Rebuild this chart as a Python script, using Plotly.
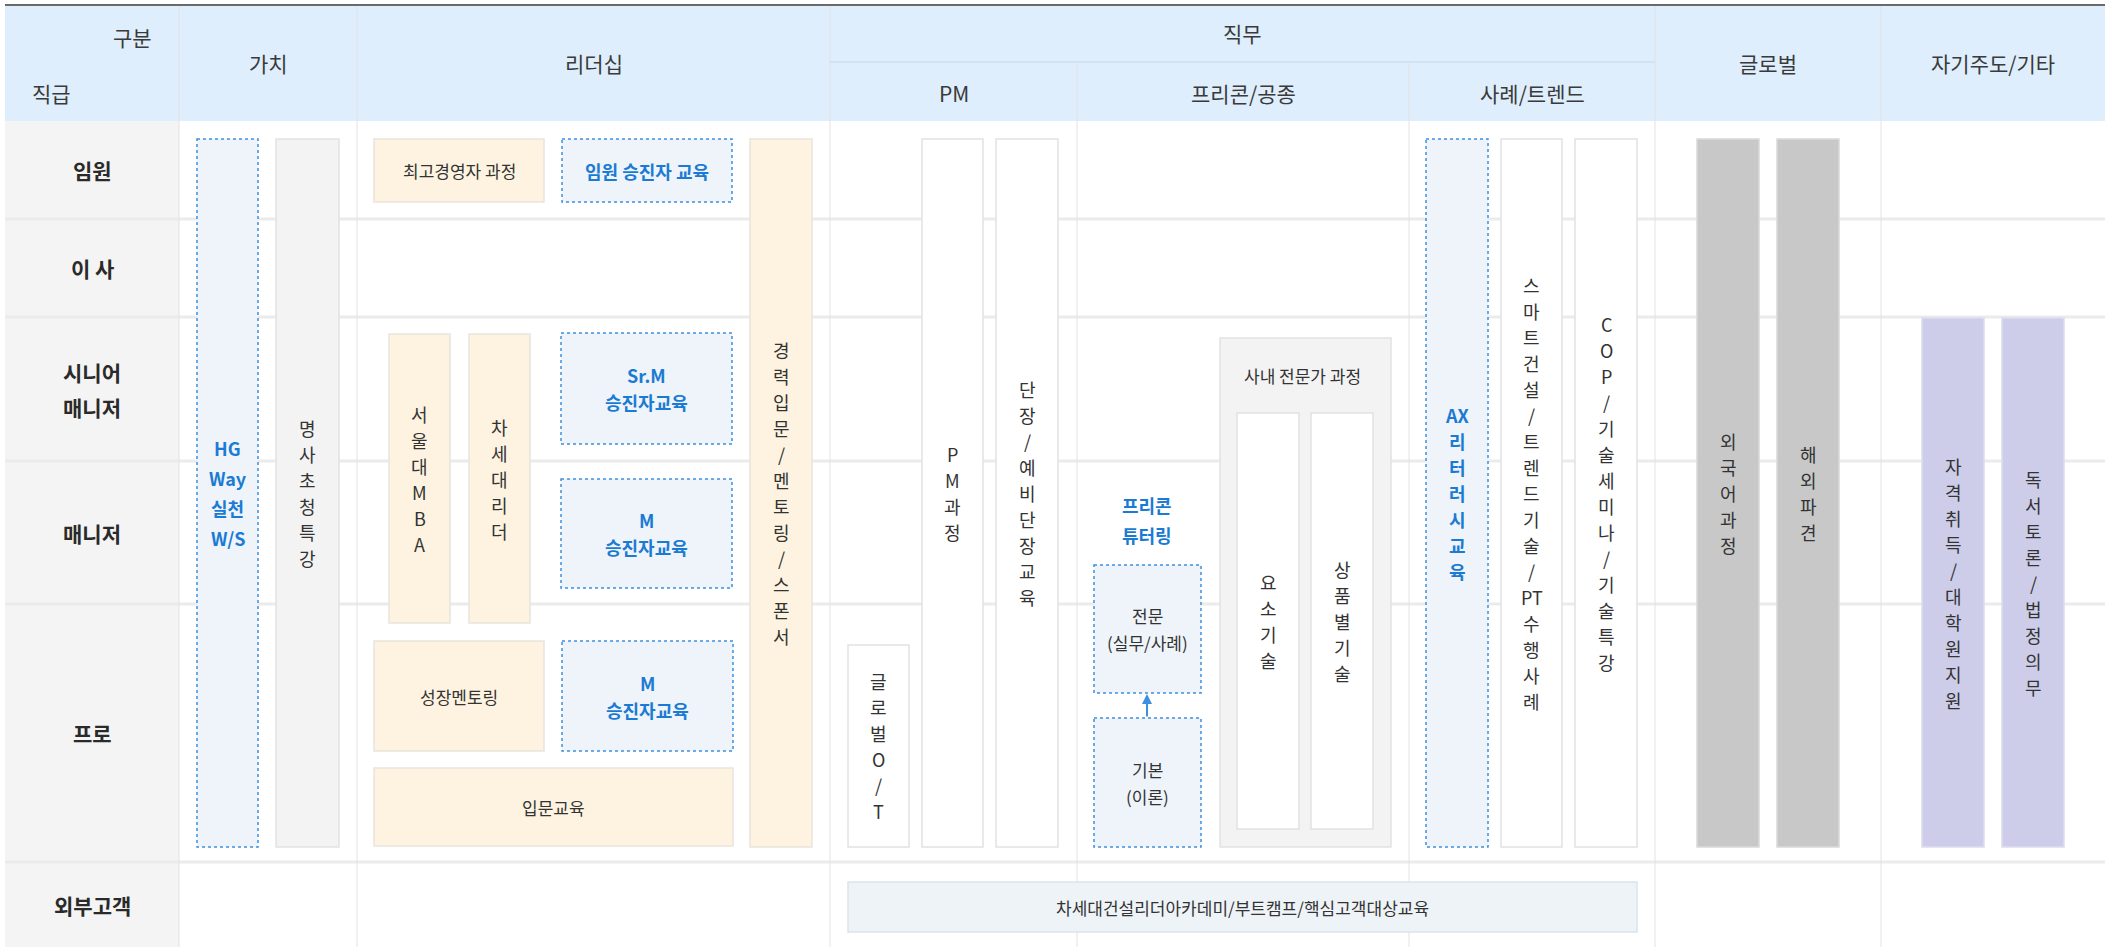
import plotly.graph_objects as go

# ---------------- content ----------------
corner_top = "구분"
corner_left = "직급"
row_labels = ["임원", "이 사", "시니어\n매니저", "매니저", "프로", "외부고객"]
category_labels = ["가치", "리더십", "직무", "글로벌", "자기주도/기타"]
job_sub_labels = ["PM", "프리콘/공종", "사례/트렌드"]

value_programs = ["HG\nWay\n실천\nW/S", "명사초청특강"]
leadership_programs = ["최고경영자 과정", "임원 승진자 교육", "서울대MBA", "차세대리더",
                       "Sr.M\n승진자교육", "M\n승진자교육", "성장멘토링", "M\n승진자교육",
                       "입문교육", "경력입문/멘토링/스폰서"]
pm_programs = ["글로벌O/T", "PM과정", "단장/예비단장교육"]
precon_programs = ["프리콘\n튜터링", "전문\n(실무/사례)", "기본\n(이론)", "사내 전문가 과정",
                   "요소기술", "상품별기술"]
trend_programs = ["AX리터러시교육", "스마트건설/트렌드기술/PT수행사례", "COP/기술세미나/기술특강"]
global_programs = ["외국어과정", "해외파견"]
self_programs = ["자격취득/대학원지원", "독서토론/법정의무"]
external_programs = ["차세대건설리더아카데미/부트캠프/핵심고객대상교육"]

# ---------------- layout geometry (pixels) ----------------
W, H = 2111, 947
L, R, TOP, HEAD_B, SUB_Y = 5, 2105, 5, 121, 62
col_edges = [5, 179, 357, 830, 1077, 1409, 1655, 1881, 2105]
row_edges = [121, 219, 317, 461, 604, 862, 947]

FONT = "Noto Sans CJK KR"
DARK = "#333333"
BLUE = "#1b7bd3"

STYLES = {
    "beige": dict(fill="#fdf3e0", line="#e9e4dc", dash="solid"),
    "blue": dict(fill="#eef4fa", line="#3d90e0", dash="dot"),
    "gray": dict(fill="#f3f3f3", line="#e2e2e2", dash="solid"),
    "white": dict(fill="#ffffff", line="#e2e2e2", dash="solid"),
    "dark": dict(fill="#c8c8c8", line="#d9d9d9", dash="solid"),
    "lav": dict(fill="#cdcdea", line="#dcdcef", dash="solid"),
    "ext": dict(fill="#eef3f8", line="#dde3ea", dash="solid"),
}

# (label, x0, x1, y0, y1, style, mode, text colour, bold)
boxes = [
    (value_programs[0], 197, 258, 139, 847, "blue", "h", BLUE, True),
    (value_programs[1], 276, 339, 139, 847, "gray", "v", DARK, False),
    (leadership_programs[0], 374, 544, 139, 202, "beige", "h", DARK, False),
    (leadership_programs[1], 562, 732, 139, 202, "blue", "h", BLUE, True),
    (leadership_programs[2], 389, 450, 334, 623, "beige", "v", DARK, False),
    (leadership_programs[3], 469, 530, 334, 623, "beige", "v", DARK, False),
    (leadership_programs[4], 561, 732, 333, 444, "blue", "h", BLUE, True),
    (leadership_programs[5], 561, 732, 479, 588, "blue", "h", BLUE, True),
    (leadership_programs[6], 374, 544, 641, 751, "beige", "h", DARK, False),
    (leadership_programs[7], 562, 733, 641, 751, "blue", "h", BLUE, True),
    (leadership_programs[8], 374, 733, 768, 846, "beige", "h", DARK, False),
    (leadership_programs[9], 750, 812, 139, 847, "beige", "v", DARK, False),
    (pm_programs[0], 848, 909, 645, 847, "white", "v", DARK, False),
    (pm_programs[1], 922, 983, 139, 847, "white", "v", DARK, False),
    (pm_programs[2], 996, 1058, 139, 847, "white", "v", DARK, False),
    (precon_programs[3], 1220, 1391, 338, 847, "gray", "none", DARK, False),
    (precon_programs[1], 1094, 1201, 565, 693, "blue", "h", DARK, False),
    (precon_programs[2], 1094, 1201, 718, 847, "blue", "h", DARK, False),
    (precon_programs[4], 1237, 1299, 413, 829, "white", "v", DARK, False),
    (precon_programs[5], 1311, 1373, 413, 829, "white", "v", DARK, False),
    (trend_programs[0], 1426, 1488, 139, 847, "blue", "v", BLUE, True),
    (trend_programs[1], 1501, 1562, 139, 847, "white", "v", DARK, False),
    (trend_programs[2], 1575, 1637, 139, 847, "white", "v", DARK, False),
    (global_programs[0], 1697, 1759, 139, 847, "dark", "v", DARK, False),
    (global_programs[1], 1777, 1839, 139, 847, "dark", "v", DARK, False),
    (self_programs[0], 1922, 1984, 318, 847, "lav", "v", DARK, False),
    (self_programs[1], 2002, 2064, 318, 847, "lav", "v", DARK, False),
    (external_programs[0], 848, 1637, 882, 932, "ext", "h", DARK, False),
]

KEEP_TOGETHER = ("AX", "PT")


def tokens(label):
    out, i = [], 0
    while i < len(label):
        for k in KEEP_TOGETHER:
            if label.startswith(k, i):
                out.append(k)
                i += len(k)
                break
        else:
            out.append(label[i])
            i += 1
    return out


shapes = []
annotations = []


def line(x0, y0, x1, y1, color, width):
    shapes.append(dict(type="line", xref="x", yref="y", x0=x0, y0=y0, x1=x1, y1=y1,
                       line=dict(color=color, width=width)))


def rect(x0, y0, x1, y1, fill, lc, width=1.5, dash="solid"):
    shapes.append(dict(type="rect", xref="x", yref="y", x0=x0, y0=y0, x1=x1, y1=y1,
                       fillcolor=fill, line=dict(color=lc, width=width, dash=dash)))


def stack(x, yc, items, spacing, size, color, bold=False):
    n = len(items)
    for i, t in enumerate(items):
        y = yc + (i - (n - 1) / 2) * spacing
        txt = f"<b>{t}</b>" if bold else t
        annotations.append(dict(x=x, y=y, xref="x", yref="y", text=txt, showarrow=False,
                                xanchor="center", yanchor="middle",
                                font=dict(family=FONT, size=size, color=color)))


# background regions
rect(L, TOP, R, HEAD_B, "#dfeefc", "rgba(0,0,0,0)", 0)
rect(L, HEAD_B, col_edges[1], H, "#f4f4f4", "rgba(0,0,0,0)", 0)

# row separators
for y in row_edges[1:-1]:
    line(L, y, R, y, "#ebebeb", 3)

# column separators
for x in col_edges[1:-1]:
    y0 = SUB_Y if x in (col_edges[4], col_edges[5]) else TOP
    line(x, y0, x, H, "#e2e2e2", 1)
line(col_edges[3], SUB_Y, col_edges[6], SUB_Y, "#d2e2f0", 2)
line(L, TOP, R, TOP, "#6a6a6a", 2)

# header texts
HSIZE = 21
stack(132, 37, [corner_top], 0, HSIZE, "#3a3a3a")
stack(51, 93, [corner_left], 0, HSIZE, "#3a3a3a")
cat_spans = [(1, 2), (2, 3), (3, 6), (6, 7), (7, 8)]
for lab, (a, b) in zip(category_labels, cat_spans):
    yc = 33 if lab == category_labels[2] else 63
    stack((col_edges[a] + col_edges[b]) / 2, yc, [lab], 0, HSIZE, "#3a3a3a")
for lab, (a, b) in zip(job_sub_labels, [(3, 4), (4, 5), (5, 6)]):
    stack((col_edges[a] + col_edges[b]) / 2, 93, [lab], 0, HSIZE, "#3a3a3a")

# row labels
for i, lab in enumerate(row_labels):
    yc = (row_edges[i] + row_edges[i + 1]) / 2
    stack((col_edges[0] + col_edges[1]) / 2, yc, lab.split("\n"), 35, 21, "#2a2a2a", bold=True)

# boxes
for lab, x0, x1, y0, y1, st, mode, color, bold in boxes:
    s = STYLES[st]
    rect(x0, y0, x1, y1, s["fill"], s["line"], 1.5, s["dash"])
    xc, yc = (x0 + x1) / 2, (y0 + y1) / 2
    if mode == "v":
        stack(xc, yc, tokens(lab), 26, 18, color, bold)
    elif mode == "h":
        parts = lab.split("\n")
        sp = 30 if lab == value_programs[0] else 27
        stack(xc, yc, parts, sp, 18 if bold else 17, color, bold)

# precon extras: title of in-house expert course, tutoring label, arrow
stack(1302, 375, [precon_programs[3]], 0, 17, DARK)
stack(1147, 520, precon_programs[0].split("\n"), 30, 18, BLUE, True)
annotations.append(dict(x=1147, y=694, ax=1147, ay=718, xref="x", yref="y", axref="x", ayref="y",
                        text="", showarrow=True, arrowhead=2, arrowsize=1, arrowwidth=2,
                        arrowcolor="#3d90e0"))

fig = go.Figure()
fig.update_layout(
    width=W, height=H, margin=dict(l=0, r=0, t=0, b=0),
    paper_bgcolor="white", plot_bgcolor="white",
    xaxis=dict(range=[0, W], visible=False, fixedrange=True),
    yaxis=dict(range=[H, 0], visible=False, fixedrange=True),
    shapes=shapes, annotations=annotations, showlegend=False,
)
fig.write_html("out.html", config={"displayModeBar": False},
               post_script="document.body.style.margin='0';document.body.style.overflow='hidden';")
